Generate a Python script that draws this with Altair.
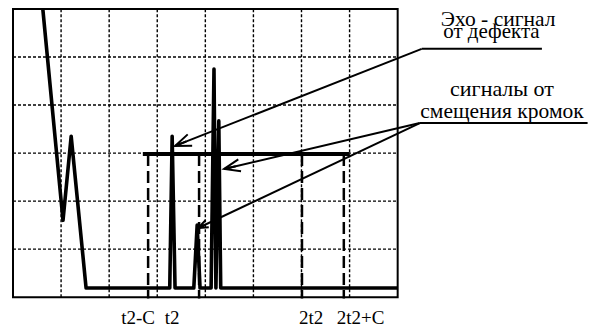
import math
import altair as alt
import pandas as pd

# ---- data (screen divisions: x 0..8, y 0..6) ----
sig_x = [0.62, 1.04, 1.21, 1.52, 3.26, 3.31, 3.37, 3.76, 3.83, 3.89, 4.12, 4.18, 4.22, 4.28, 4.32, 8.0]
sig_y = [6.0, 1.6, 3.35, 0.19, 0.19, 3.35, 0.19, 0.19, 1.5, 0.19, 0.19, 4.75, 0.19, 3.67, 0.19, 0.19]

gate_x = [2.70, 7.0]
gate_y = 2.98

mark_x = [2.81, 3.87, 6.01, 6.88]
tick_labels = ["t2-C", "t2", "2t2", "2t2+C"]
tick_label_x = [2.60, 3.31, 6.20, 7.23]
tick_label_y = -0.5625

grid_v = [1, 2, 3, 4, 5, 6, 7]
grid_h = [1, 2, 3, 4, 5]

ann_text = ["Эхо - сигнал", "от дефекта", "сигналы от", "смещения кромок"]
ann_x = [10.09, 9.95, 10.17, 10.17]
ann_y = [5.655, 5.40, 4.19, 3.73]
ann_size = [21.5, 21, 22, 21.5]

under_x = [8.50, 8.46]
under_x2 = [11.0, 11.95]
under_y = [5.17, 3.625]

arrow_x = [8.50, 8.46, 8.46]
arrow_y = [5.17, 3.625, 3.625]
arrow_tx = [3.37, 4.39, 3.85]
arrow_ty = [3.15, 2.67, 1.44]
arrow_size = [1024, 1024, 400]

SX, SY = 48.08, 48.0
FONT = "'Liberation Serif', 'Times New Roman', 'DejaVu Serif', serif"

sig = pd.DataFrame({"x": sig_x, "y": sig_y, "i": list(range(len(sig_x)))})
gate = pd.DataFrame({"x": [gate_x[0]], "x2": [gate_x[1]], "y": [gate_y]})
marks = pd.DataFrame({"x": mark_x, "y": [gate_y] * len(mark_x), "y2": [-0.03] * len(mark_x)})
labels = pd.DataFrame({"x": tick_label_x, "y": [tick_label_y] * 4, "t": tick_labels})
gv = pd.DataFrame({"x": grid_v, "y": [0] * len(grid_v), "y2": [6] * len(grid_v)})
gh = pd.DataFrame({"y": grid_h, "x": [0] * len(grid_h), "x2": [8] * len(grid_h)})
frame = pd.DataFrame({"x": [0], "x2": [8], "y": [0], "y2": [6]})
ann = pd.DataFrame({"x": ann_x, "y": ann_y, "t": ann_text, "fs": ann_size})
under = pd.DataFrame({"x": under_x, "x2": under_x2, "y": under_y})
arr = pd.DataFrame({"x": arrow_x, "y": arrow_y, "x2": arrow_tx, "y2": arrow_ty})
heads = pd.DataFrame({
    "x": arrow_tx, "y": arrow_ty, "s": arrow_size,
    "a": [math.degrees(math.atan2(-(ty - y) * SY, (tx - x) * SX)) % 360
          for x, y, tx, ty in zip(arrow_x, arrow_y, arrow_tx, arrow_ty)],
})

xs = alt.Scale(domain=[0, 12], nice=False, zero=False)
ys = alt.Scale(domain=[-0.6, 6], nice=False, zero=False)
X = lambda f="x": alt.X(f, type="quantitative", scale=xs, axis=None)
Y = lambda f="y": alt.Y(f, type="quantitative", scale=ys, axis=None)

frame_l = alt.Chart(frame).mark_rect(fillOpacity=0, stroke="black", strokeWidth=2).encode(
    x=X(), x2="x2", y=Y(), y2="y2")
gv_l = alt.Chart(gv).mark_rule(color="black", strokeWidth=1.4, strokeDash=[3, 2]).encode(
    x=X(), y=Y(), y2="y2")
gh_l = alt.Chart(gh).mark_rule(color="black", strokeWidth=1.4, strokeDash=[3, 2]).encode(
    y=Y(), x=X(), x2="x2")
marks_l = alt.Chart(marks).mark_rule(color="black", strokeWidth=2.5, strokeDash=[12, 5]).encode(
    x=X(), y=Y(), y2="y2")
gate_l = alt.Chart(gate).mark_rule(color="black", strokeWidth=4).encode(
    x=X(), x2="x2", y=Y())
sig_l = alt.Chart(sig).mark_line(color="black", strokeWidth=3.6, strokeJoin="round", clip=False).encode(
    x=X(), y=Y(), order="i:Q")
lab_l = alt.Chart(labels).mark_text(font=FONT, fontSize=19, color="black",
                                    baseline="alphabetic", align="center").encode(
    x=X(), y=Y(), text="t:N")
ann_l = alt.Chart(ann).mark_text(font=FONT, color="black",
                                 baseline="alphabetic", align="center").encode(
    x=X(), y=Y(), text="t:N", size=alt.Size("fs:Q", scale=None, legend=None))
under_l = alt.Chart(under).mark_rule(color="black", strokeWidth=2).encode(
    x=X(), x2="x2", y=Y())
arr_l = alt.Chart(arr).mark_rule(color="black", strokeWidth=2).encode(
    x=X(), y=Y(), x2="x2", y2="y2")
head_l = alt.Chart(heads).mark_point(
    shape="M -1 -0.38 L 0 0 L -1 0.38 M -0.75 0 L 0 0", filled=False, color="black",
    strokeWidth=2, opacity=1).encode(
    x=X(), y=Y(), angle=alt.Angle("a:Q", scale=None), size=alt.Size("s:Q", scale=None, legend=None))

chart = alt.layer(frame_l, gv_l, gh_l, marks_l, gate_l, sig_l, under_l, arr_l, head_l, lab_l, ann_l).properties(
    width=577, height=317,
    autosize=alt.AutoSizeParams(type="none"),
    padding={"left": 5, "top": 1, "right": 2, "bottom": 4},
    background="white",
).configure_view(strokeWidth=0)

chart.save("out.html", embed_options={"renderer": "svg", "actions": False})
